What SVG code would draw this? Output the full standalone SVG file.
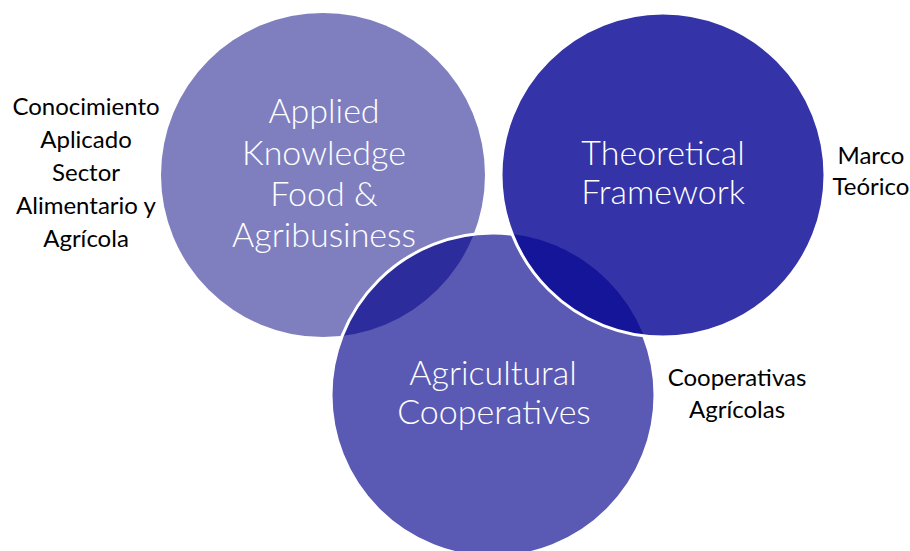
<svg xmlns="http://www.w3.org/2000/svg" width="910" height="551" viewBox="0 0 910 551">
<style>
.w{fill:#ffffff;font-family:Lato,"Liberation Sans",sans-serif;font-size:34px;font-weight:300;text-anchor:middle}
.b{fill:#000000;font-family:Lato,"Liberation Sans",sans-serif;font-size:24px;text-anchor:middle}
.ws{fill:none;stroke:#ffffff;stroke-width:3}
</style>
<defs>
<clipPath id="clipL"><circle cx="323" cy="175" r="162"/></clipPath>
<clipPath id="clipB"><circle cx="493" cy="395" r="162"/></clipPath>
</defs>
<rect width="910" height="551" fill="#ffffff"/>
<g id="applied-knowledge">
<circle cx="323" cy="175" r="162" fill="#7f7fbf"/>
</g>
<g id="agricultural-cooperatives">
<circle cx="493" cy="395" r="162" fill="#5a5ab4"/>
<circle cx="493" cy="395" r="162" fill="#2c2c9c" clip-path="url(#clipL)"/>
<circle cx="493" cy="395" r="162" class="ws"/>
</g>
<g id="theoretical-framework">
<circle cx="663" cy="175" r="162" fill="#3434a8"/>
<circle cx="663" cy="175" r="162" fill="#15159a" clip-path="url(#clipB)"/>
<circle cx="663" cy="175" r="162" class="ws"/>
</g>
<g id="labels-white">
<text class="w" x="324" y="123">Applied</text>
<text class="w" x="324" y="165">Knowledge</text>
<text class="w" x="324" y="206">Food &amp;</text>
<text class="w" x="324" y="247">Agribusiness</text>
<text class="w" x="663" y="165">Theoretical</text>
<text class="w" x="663" y="204">Framework</text>
<text class="w" x="493" y="385">Agricultural</text>
<text class="w" x="494" y="424">Cooperatives</text>
</g>
<g id="labels-black">
<text class="b" x="86" y="115">Conocimiento</text>
<text class="b" x="86" y="148">Aplicado</text>
<text class="b" x="86" y="181">Sector</text>
<text class="b" x="86" y="214">Alimentario y</text>
<text class="b" x="86" y="247">Agrícola</text>
<text class="b" x="871" y="164">Marco</text>
<text class="b" x="871" y="195">Teórico</text>
<text class="b" x="737" y="386">Cooperativas</text>
<text class="b" x="737" y="418">Agrícolas</text>
</g>
<g id="connectors"></g>
</svg>
